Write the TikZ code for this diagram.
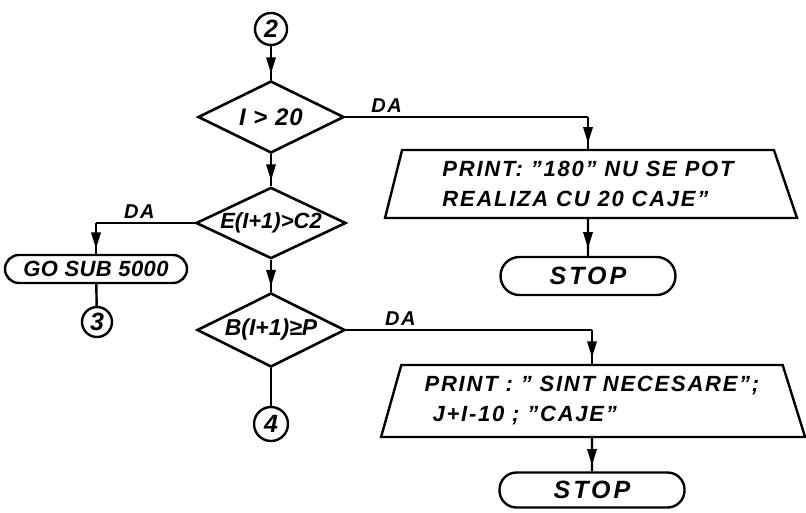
\documentclass[tikz,border=0pt]{standalone}
\usepackage{fontspec}
\setmainfont{Liberation Sans}
\usetikzlibrary{arrows.meta,shapes.geometric,decorations.markings}
\newcommand{\fcfont}[2]{\bfseries\itshape\fontsize{#1}{30}\selectfont\addfontfeature{LetterSpace=#2}}
\tikzset{
  fcline/.style={line width=2.4pt},
  fcdiamond/.style={draw, line width=2.6pt, diamond, aspect=2, inner sep=0pt},
  fcterm/.style={draw, line width=2.4pt, inner sep=0pt},
  fcprint/.style={draw, line width=2.4pt, trapezium, trapezium stretches body, inner sep=2pt, align=left, font=\fcfont{22}{8}},
  fcconn/.style={draw, line width=2.4pt, circle, inner sep=0pt, font=\fcfont{25}{0}},
  fcflow/.style={fcline, postaction={decorate}, decoration={markings, mark=at position 0.6 with {\fill (-9pt,-5pt) -- (7pt,0pt) -- (-9pt,5pt) -- cycle;}}},
  fclabel/.style={font=\fcfont{20}{8}, inner sep=3pt}
}
\begin{document}
\begin{tikzpicture}[x=1pt,y=-1pt]
  \useasboundingbox (0,0) rectangle (806,512);
  \node[fcconn, minimum size=32pt] (c2) at (271,29) {2};
  \node[fcdiamond, minimum width=146pt, minimum height=72pt, font=\fcfont{24}{4}] (d1) at (271,117) {I > 20};
  \node[fcdiamond, minimum width=150pt, minimum height=70pt, font=\fcfont{22}{0}] (d2) at (271,223) {E(I+1)>C2};
  \node[fcdiamond, minimum width=148pt, minimum height=74pt, font=\fcfont{23}{0}] (d3) at (271,330) {B(I+1)≥P};
  \node[fcconn, minimum size=34pt] (c4) at (271,424) {4};
  \node[fcterm, minimum width=182pt, minimum height=28pt, rounded corners=14pt, font=\fcfont{22}{2}] (gs) at (96,269) {GO SUB 5000};
  \node[fcconn, minimum size=30pt] (c3) at (97,322) {3};
  \node[fcprint, trapezium left angle=71, trapezium right angle=65, minimum width=412pt, minimum height=68pt] (p1) at (588,184) {PRINT: "180" NU SE POT\\REALIZA CU 20 CAJE"};
  \node[fcterm, minimum width=175pt, minimum height=38pt, rounded corners=19pt, font=\fcfont{25}{12}] (s1) at (588,276) {STOP};
  \node[fcprint, trapezium left angle=69, trapezium right angle=67, minimum width=424pt, minimum height=72pt] (p2) at (592,401) {PRINT : " SINT NECESARE";\\\ J+I-10 ; "CAJE"};
  \node[fcterm, minimum width=185pt, minimum height=35pt, rounded corners=17pt, font=\fcfont{25}{12}] (s2) at (592,490) {STOP};
  \draw[fcflow] (c2) -- (d1);
  \draw[fcflow] (d1) -- (d2);
  \draw[fcflow] (d2) -- (d3);
  \draw[fcline] (d3) -- (c4);
  \draw[fcline] (gs) -- (c3);
  \coordinate (k1) at (d1.east -| p1.north);
  \draw[fcline] (d1.east) -- node[fclabel, above, pos=0.17] (da1) {DA} (k1);
  \draw[fcflow] (k1) -- (p1.north);
  \draw[fcflow] (p1.south) -- (s1.north);
  \coordinate (k2) at (d2.west -| gs.north);
  \draw[fcline] (d2.west) -- node[fclabel, above, pos=0.56] (da2) {DA} (k2);
  \draw[fcflow] (k2) -- (gs.north);
  \coordinate (k3) at (d3.east -| p2.north);
  \draw[fcline] (d3.east) -- node[fclabel, above, pos=0.22] (da3) {DA} (k3);
  \draw[fcflow] (k3) -- (p2.north);
  \draw[fcflow] (p2.south) -- (s2.north);
\end{tikzpicture}
\end{document}
